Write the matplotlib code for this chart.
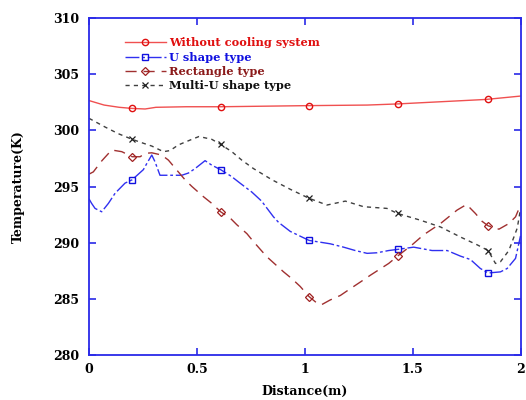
import matplotlib
matplotlib.use('Agg')
import matplotlib.pyplot as plt

# marker positions shared by all series
MARK_X = [0.2, 0.61, 1.02, 1.43, 1.85]

red_x = [0.0, 0.07, 0.14, 0.2, 0.26, 0.31, 0.45, 0.61, 1.02, 1.29, 1.43, 1.84, 2.0]
red_y = [302.65, 302.25, 302.05, 301.95, 301.9, 302.05, 302.1, 302.1, 302.2, 302.25, 302.35, 302.75, 303.05]
red_m = [301.95, 302.1, 302.2, 302.35, 302.8]

u_x = [0.0, 0.012, 0.028, 0.059, 0.09, 0.121, 0.167, 0.2, 0.252, 0.268, 0.291, 0.306,
       0.329, 0.384, 0.43, 0.461, 0.492, 0.538, 0.569, 0.61, 0.66, 0.70, 0.755, 0.80,
       0.855, 0.879, 0.933, 1.02, 1.118, 1.18, 1.234, 1.289, 1.335, 1.389, 1.43, 1.505,
       1.59, 1.66, 1.722, 1.768, 1.814, 1.85, 1.907, 1.938, 1.977, 2.0]
u_y = [293.9, 293.5, 293.05, 292.75, 293.5, 294.4, 295.3, 295.6, 296.5, 297.05, 297.8, 297.2,
       296.0, 296.0, 296.0, 296.2, 296.6, 297.3, 296.9, 296.5, 295.9, 295.3, 294.5, 293.7,
       292.3, 291.8, 291.0, 290.2, 289.9, 289.6, 289.3, 289.05, 289.1, 289.3, 289.4, 289.6,
       289.3, 289.3, 288.8, 288.5, 287.7, 287.3, 287.4, 287.7, 288.6, 290.6]
u_m = [295.6, 296.5, 290.2, 289.4, 287.3]

rect_x = [0.0, 0.02, 0.06, 0.105, 0.152, 0.2, 0.237, 0.26, 0.291, 0.337, 0.368, 0.414,
          0.445, 0.477, 0.53, 0.569, 0.61, 0.654, 0.685, 0.732, 0.762, 0.824, 0.902, 0.94,
          0.979, 1.02, 1.064, 1.08, 1.118, 1.165, 1.211, 1.258, 1.304, 1.389, 1.43, 1.497,
          1.551, 1.629, 1.706, 1.75, 1.791, 1.822, 1.85, 1.9, 1.946, 1.977, 2.0]
rect_y = [296.1, 296.3, 297.3, 298.25, 298.1, 297.65, 297.65, 297.95, 298.0, 297.8, 297.35, 296.3,
          295.6, 295.0, 294.1, 293.5, 292.75, 292.2, 291.6, 290.8, 290.1, 288.75, 287.4, 286.8,
          286.1, 285.2, 284.5, 284.5, 284.9, 285.3, 285.9, 286.5, 287.1, 288.15, 288.8, 289.8,
          290.7, 291.7, 292.9, 293.4, 292.6, 291.9, 291.5, 291.2, 291.7, 292.3, 293.35]
rect_m = [297.65, 292.75, 285.2, 288.8, 291.5]

mu_x = [0.0, 0.074, 0.136, 0.2, 0.252, 0.291, 0.345, 0.376, 0.414, 0.477, 0.51, 0.569,
        0.61, 0.662, 0.708, 0.762, 0.848, 0.933, 1.02, 1.103, 1.188, 1.273, 1.381, 1.43,
        1.536, 1.629, 1.722, 1.8, 1.85, 1.884, 1.907, 1.946, 1.985, 2.0]
mu_y = [301.07, 300.3, 299.7, 299.2, 298.85, 298.6, 298.1, 298.2, 298.7, 299.2, 299.45, 299.2,
        298.75, 298.1, 297.35, 296.6, 295.6, 294.75, 293.95, 293.35, 293.7, 293.2, 293.05, 292.6,
        292.0, 291.4, 290.5, 289.8, 289.3, 288.15, 288.3, 289.3, 291.3, 293.0]
mu_m = [299.2, 298.75, 293.95, 292.6, 289.3]

LABELS = ['Without cooling system', 'U shape type', 'Rectangle type', 'Multi-U shape type']
FONT = 'DejaVu Serif'
SPINE = '#2a2ae8'

fig = plt.figure(figsize=(5.26, 4.0), dpi=100)
ax = fig.add_axes([89 / 526, 45 / 400, 431.5 / 526, 337 / 400])

handles = []
l1, = ax.plot(red_x, red_y, color='#f05050', lw=1.0, ls='-')
m1, = ax.plot(MARK_X, red_m, ls='none', marker='o', ms=4.5, mfc='none', mec='#e01010', mew=1.0)
handles.append((l1, m1))

l2, = ax.plot(u_x, u_y, color='#3030f0', lw=1.0, dashes=(10, 2, 2, 2))
m2, = ax.plot(MARK_X, u_m, ls='none', marker='s', ms=5, mfc='none', mec='#1010e0', mew=1.0)
handles.append((l2, m2))

l3, = ax.plot(rect_x, rect_y, color='#a03030', lw=1.0, dashes=(8, 5))
m3, = ax.plot(MARK_X, rect_m, ls='none', marker='D', ms=4, mfc='none', mec='#a02020', mew=0.9)
handles.append((l3, m3))

l4, = ax.plot(mu_x, mu_y, color='#404040', lw=1.0, dashes=(3, 3))
m4, = ax.plot(MARK_X, mu_m, ls='none', marker='x', ms=5, mec='#202020', mew=0.9)
handles.append((l4, m4))

ax.set_xlim(0, 2)
ax.set_ylim(280, 310)
ax.set_xticks([0, 0.5, 1, 1.5, 2])
ax.set_xticklabels(['0', '0.5', '1', '1.5', '2'])
ax.set_yticks([280, 285, 290, 295, 300, 305, 310])

for s in ax.spines.values():
    s.set_color(SPINE)
    s.set_linewidth(1.3)
ax.tick_params(direction='in', length=5, width=1.2, color=SPINE,
               top=True, right=True, labelsize=9)
ax.tick_params(axis='y', pad=7)
ax.tick_params(axis='x', pad=6)
for t in ax.get_xticklabels() + ax.get_yticklabels():
    t.set_fontfamily(FONT)
    t.set_fontweight('bold')

ax.set_xlabel('Distance(m)', fontfamily=FONT, fontweight='bold', fontsize=9, labelpad=6)
ax.set_ylabel('Temperature(K)', fontfamily=FONT, fontweight='bold', fontsize=9, labelpad=20)

leg = ax.legend(handles, LABELS, loc='upper left', bbox_to_anchor=(0.07, 0.96),
                frameon=False, handlelength=3.6, handletextpad=0.3, labelspacing=0.3,
                borderpad=0, prop={'family': FONT, 'weight': 'bold', 'size': 8.2})
for txt, col in zip(leg.get_texts(), ['#e01010', '#1010e0', '#8b1a1a', '#101010']):
    txt.set_color(col)

fig.savefig('out.png', dpi=100)
